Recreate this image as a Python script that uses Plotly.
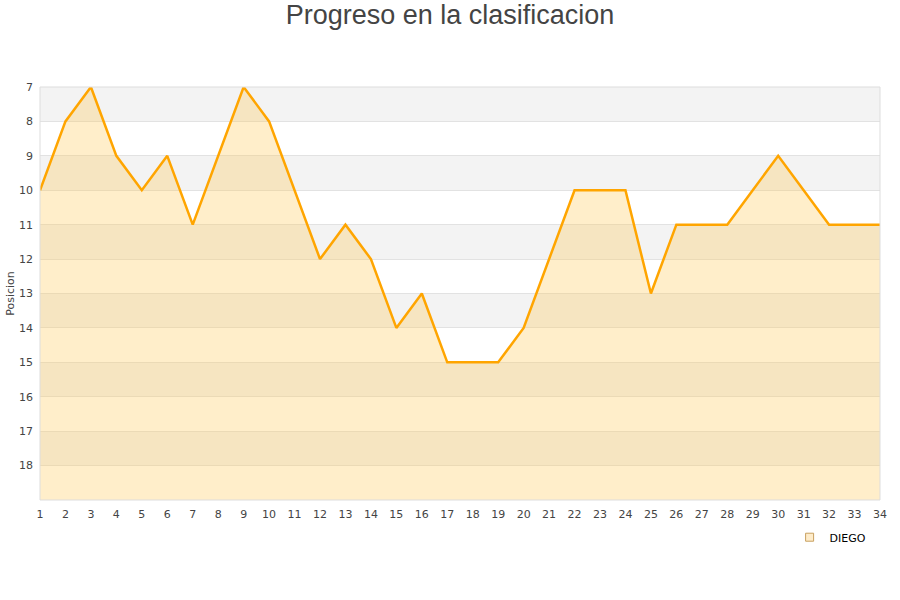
import plotly.graph_objects as go

jornadas = list(range(1, 35))
posiciones = [10, 8, 7, 9, 10, 9, 11, 9, 7, 8, 10, 12, 11, 12, 14, 13, 15, 15, 15, 14,
              12, 10, 10, 10, 13, 11, 11, 11, 10, 9, 10, 11, 11, 11]
y_ticks = list(range(7, 19))
equipo = "DIEGO"

y_min, y_max = 7, 19

fig = go.Figure()

# baseline for fill
fig.add_trace(go.Scatter(x=jornadas, y=[y_max] * len(jornadas), mode="lines",
                         line=dict(width=0), showlegend=False, hoverinfo="skip"))
fig.add_trace(go.Scatter(x=jornadas, y=posiciones, mode="lines", fill="tonexty",
                         fillcolor="rgba(255,200,80,0.3)",
                         line=dict(color="#ffa500", width=2.5), showlegend=False))
# legend entry
fig.add_trace(go.Scatter(x=[None], y=[None], mode="markers", name=equipo,
                         marker=dict(symbol="square", size=8, color="#feecca",
                                     line=dict(color="#c8a060", width=1))))

shapes = []
for i, t in enumerate(range(y_min, y_max)):
    if i % 2 == 0:
        shapes.append(dict(type="rect", xref="paper", yref="y", x0=0, x1=1, y0=t, y1=t + 1,
                           fillcolor="#f3f3f3", line=dict(width=0), layer="below"))
shapes.append(dict(type="rect", xref="paper", yref="paper", x0=0, x1=1, y0=0, y1=1,
                   line=dict(color="#dddddd", width=1), layer="above"))

fig.update_layout(
    width=900, height=600,
    margin=dict(l=40, r=20, t=87, b=100, autoexpand=False),
    paper_bgcolor="white", plot_bgcolor="white",
    font=dict(family="DejaVu Sans", color="#444444", size=11),
    title=dict(text="Progreso en la clasificacion", x=0.5, xanchor="center",
               xref="container", y=0.975, yanchor="middle", yref="container",
               font=dict(size=27, family="Liberation Sans", color="#444444")),
    shapes=shapes,
    xaxis=dict(range=[1, 34], tickmode="array", tickvals=jornadas,
               ticktext=[str(j) for j in jornadas], showgrid=False, zeroline=False,
               ticks="", ticklabelstandoff=6, automargin=False,
               tickfont=dict(size=11, color="#444444")),
    yaxis=dict(range=[y_max, y_min], tickmode="array", tickvals=y_ticks,
               showgrid=True, gridcolor="#e2e2e2", zeroline=False, ticks="",
               ticklabelstandoff=6, automargin=False,
               title=dict(text="Posicion", font=dict(size=11), standoff=2),
               tickfont=dict(size=11, color="#444444")),
    legend=dict(x=0.99, xanchor="right", y=-0.055, yanchor="top", orientation="h",
                font=dict(size=11, color="#000000"), bgcolor="rgba(0,0,0,0)"),
)

fig.write_html("out.html", config={"displayModeBar": False},
               post_script="document.body.style.margin='0';")
